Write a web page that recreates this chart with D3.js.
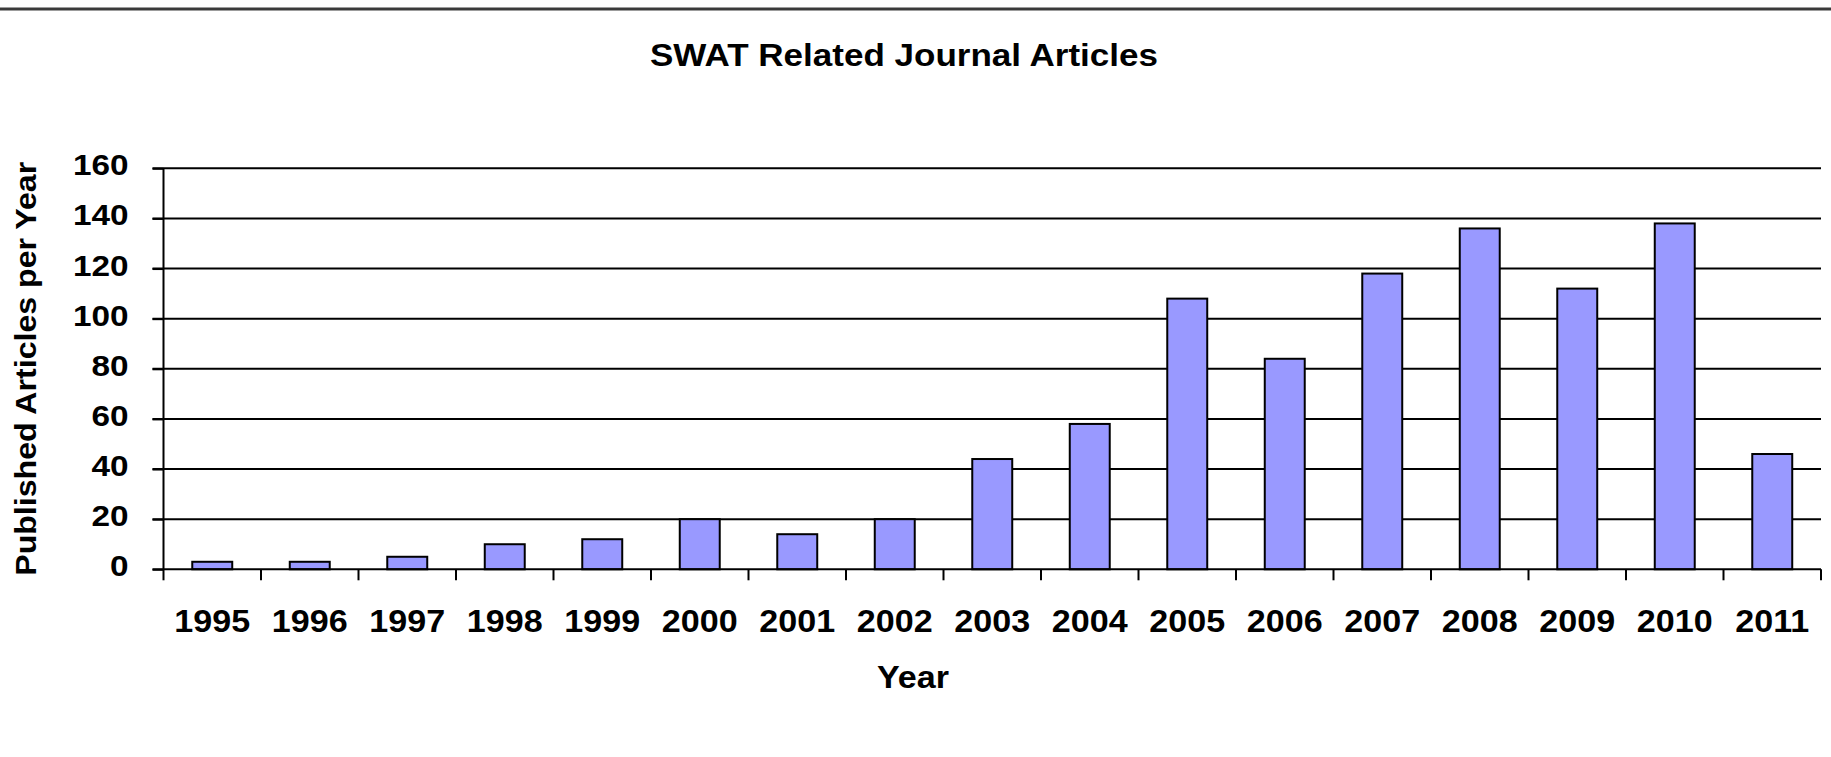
<!DOCTYPE html>
<html>
<head>
<meta charset="utf-8">
<script src="https://cdn.jsdelivr.net/npm/d3@7"></script>
<style>
  html, body { margin: 0; padding: 0; background: #fff; }
  svg { display: block; }
  text { font-family: "Liberation Sans", Arial, sans-serif; font-weight: bold; fill: #000; }
</style>
</head>
<body>
<svg id="chart" width="1831" height="757"></svg>
<script>
// Yearly counts of SWAT-related journal articles
const years = ["1995","1996","1997","1998","1999","2000","2001","2002","2003",
               "2004","2005","2006","2007","2008","2009","2010","2011"];
const articles = [3, 3, 5, 10, 12, 20, 14, 20, 44, 58, 108, 84, 118, 136, 112, 138, 46];
const yTicks = [0, 20, 40, 60, 80, 100, 120, 140, 160];

const chartTitle = "SWAT Related Journal Articles";
const xTitle = "Year";
const yTitle = "Published Articles per Year";

const W = 1831, H = 757;
const plot = { left: 163.5, right: 1821, top: 168.3, bottom: 569.3 };

const svg = d3.select("#chart");

// frame line across the top
svg.append("line")
  .attr("x1", 0).attr("x2", W).attr("y1", 9).attr("y2", 9)
  .attr("stroke", "#3a3a3a").attr("stroke-width", 3);

const x = d3.scaleBand()
  .domain(years)
  .range([plot.left, plot.right])
  .paddingInner(0.59)
  .paddingOuter(0.295);

const y = d3.scaleLinear()
  .domain([0, 160])
  .range([plot.bottom, plot.top]);

// draw text a little wider than the font's natural advance
function widen(sel, factor) {
  sel.each(function () {
    const len = this.getComputedTextLength();
    d3.select(this).attr("textLength", len * factor).attr("lengthAdjust", "spacingAndGlyphs");
  });
}

// horizontal gridlines with ticks sticking out to the left
svg.append("g").selectAll("line")
  .data(yTicks.filter(t => t > 0))
  .join("line")
  .attr("x1", plot.left - 11).attr("x2", plot.right)
  .attr("y1", d => y(d)).attr("y2", d => y(d))
  .attr("stroke", "#000").attr("stroke-width", 2);

// y axis
const yAxis = svg.append("g")
  .attr("transform", `translate(${plot.left},0)`)
  .call(d3.axisLeft(y).tickValues(yTicks).tickSize(11).tickPadding(0).tickFormat(d3.format("d")));
yAxis.select(".domain").attr("stroke", "#000").attr("stroke-width", 2)
  .attr("d", `M0,${plot.top}V${plot.bottom}`);
yAxis.selectAll(".tick line").attr("stroke", "#000").attr("stroke-width", 2);
yAxis.selectAll(".tick text")
  .attr("x", -35).attr("dy", "0.35em").attr("y", -4)
  .style("font-size", "30px").style("font-family", "Liberation Sans, Arial, sans-serif")
  .style("font-weight", "bold").attr("fill", "#000")
  .attr("text-anchor", "end");
widen(yAxis.selectAll(".tick text"), 1.11);

// bars
svg.append("g").selectAll("rect")
  .data(years.map((yr, i) => ({ yr, v: articles[i] })))
  .join("rect")
  .attr("x", d => x(d.yr))
  .attr("width", x.bandwidth())
  .attr("y", d => y(d.v))
  .attr("height", d => y(0) - y(d.v))
  .attr("fill", "#9999ff")
  .attr("stroke", "#000")
  .attr("stroke-width", 2);

// x axis: ticks sit on category boundaries
const boundaries = d3.range(years.length + 1).map(i => plot.left + i * x.step());
svg.append("line")
  .attr("x1", plot.left - 11).attr("x2", plot.right)
  .attr("y1", y(0)).attr("y2", y(0))
  .attr("stroke", "#000").attr("stroke-width", 2);
svg.append("g").selectAll("line")
  .data(boundaries)
  .join("line")
  .attr("x1", d => d).attr("x2", d => d)
  .attr("y1", y(0)).attr("y2", y(0) + 11)
  .attr("stroke", "#000").attr("stroke-width", 2);

const xLabels = svg.append("g").selectAll("text")
  .data(years)
  .join("text")
  .attr("x", d => x(d) + x.bandwidth() / 2)
  .attr("y", 632)
  .attr("text-anchor", "middle")
  .style("font-size", "31px")
  .text(d => d);
widen(xLabels, 1.10);

// titles
const t = svg.append("text")
  .attr("x", 904).attr("y", 66)
  .attr("text-anchor", "middle")
  .style("font-size", "31px")
  .text(chartTitle);
widen(t, 1.13);

const xt = svg.append("text")
  .attr("x", 913).attr("y", 688)
  .attr("text-anchor", "middle")
  .style("font-size", "31px")
  .text(xTitle);
widen(xt, 1.1);

const yt = svg.append("text")
  .attr("transform", `translate(36,${(plot.top + plot.bottom) / 2}) rotate(-90)`)
  .attr("text-anchor", "middle")
  .style("font-size", "30px")
  .text(yTitle);
widen(yt, 1.07);
</script>
</body>
</html>
